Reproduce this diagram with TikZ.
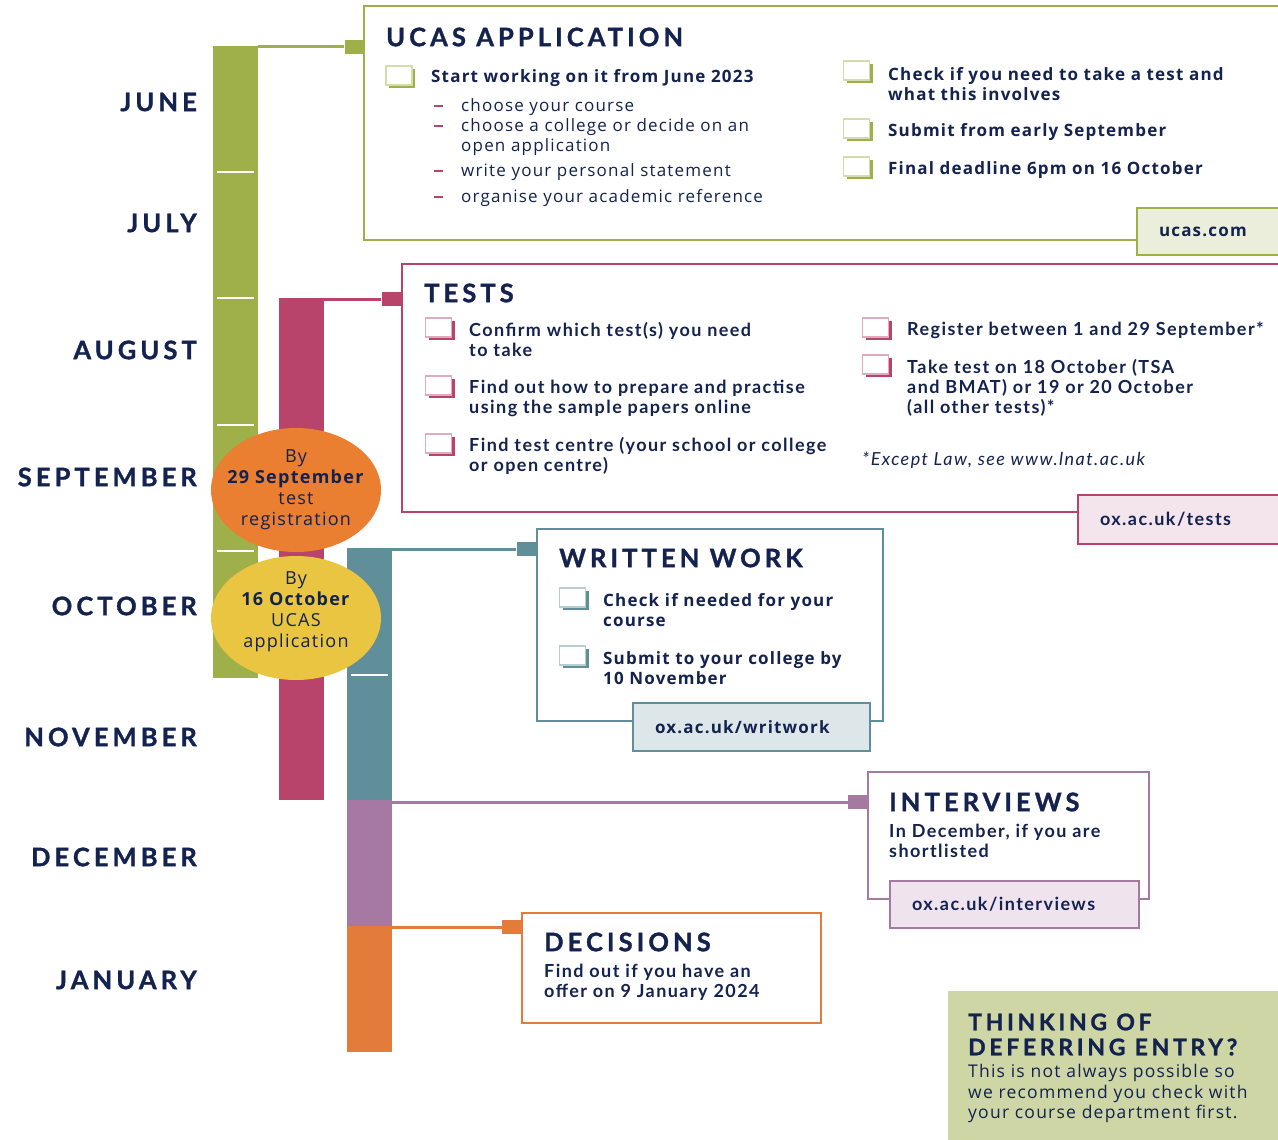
\documentclass[tikz,border=0pt]{standalone}
\usepackage{fontspec}
\setmainfont{Open Sans}[LetterSpace=7]
\newfontfamily\headfont[LetterSpace=16,FakeBold=1.2]{Lato}
\newfontfamily\latofont[LetterSpace=8]{Lato}
\usetikzlibrary{shapes.geometric,shadows,positioning}

\definecolor{navy}{HTML}{14224F}
\definecolor{cgreen}{HTML}{9FB04A}
\definecolor{cgreenlt}{HTML}{EAEEDA}
\definecolor{cthink}{HTML}{CDD6A4}
\definecolor{cpink}{HTML}{B8446C}
\definecolor{cpinklt}{HTML}{F4E4EB}
\definecolor{cteal}{HTML}{608F9A}
\definecolor{ctealt}{HTML}{DDE7EA}
\definecolor{cpurple}{HTML}{A679A2}
\definecolor{cpurplelt}{HTML}{EFE3EE}
\definecolor{corange}{HTML}{E37C3B}
\definecolor{cellorange}{HTML}{EA7E31}
\definecolor{cyellow}{HTML}{EAC541}

\newcommand\dashmark{\makebox[27pt][l]{\textcolor{cpink}{\rule[0.28em]{9pt}{1.8pt}}}}

\begin{document}
\begin{tikzpicture}
[x=1pt, y=-1pt,
bar/.style={rectangle, inner sep=0pt, minimum width=45pt, anchor=north west},
tickmark/.style={white, line width=1.5pt},
link/.style={line width=3pt},
knob/.style={rectangle, inner sep=0pt, minimum width=19pt, minimum height=14pt},
frame/.style={rectangle, draw, line width=2pt, fill=white, inner sep=0pt, anchor=north west},
tab/.style={rectangle, draw, line width=2pt, inner xsep=22pt, inner ysep=0pt, align=left, anchor=north west, text=navy},
chk/.style={rectangle, draw=#1!45, fill=white, line width=1.2pt, minimum width=26pt, minimum height=19pt, inner sep=0pt, general shadow={fill=#1, shadow xshift=3pt, shadow yshift=-3pt}},
month/.style={anchor=east, inner sep=0pt, text=navy, font=\headfont\bfseries\fontsize{25.5}{28}\selectfont},
head/.style={anchor=west, inner sep=0pt, text=navy, font=\headfont\bfseries\fontsize{25.5}{28}\selectfont},
body/.style={anchor=west, inner sep=0pt, text=navy, align=left, font=\bfseries\fontsize{17}{20}\selectfont},
lbody/.style={anchor=west, inner sep=0pt, text=navy, align=left, font=\latofont\bfseries\fontsize{18}{20}\selectfont},
item/.style={anchor=west, inner sep=0pt, text=navy, align=left, font=\fontsize{17}{20}\selectfont},
oval/.style={ellipse, inner sep=0pt, minimum width=170pt, minimum height=124pt}]

\useasboundingbox (0,0) rectangle (1278,1140);
\clip (0,0) rectangle (1278,1140);

% months
\node[month] (mjun) at (197,102) {JUNE};
\node[month] (mjul) at (197,223) {JULY};
\node[month] (maug) at (197,350) {AUGUST};
\node[month] (msep) at (197,477) {SEPTEMBER};
\node[month] (moct) at (197,606) {OCTOBER};
\node[month] (mnov) at (197,737) {NOVEMBER};
\node[month] (mdec) at (197,857) {DECEMBER};
\node[month] (mjan) at (197,980) {JANUARY};

% bars
\node[bar, fill=cgreen, minimum height=632pt] (barucas) at (213,46) {};
\node[bar, fill=cpink, minimum height=502pt] (bartests) at (279,298) {};
\node[bar, fill=cteal, minimum height=252pt] (barwrit) at (347,548) {};
\node[bar, fill=cpurple, minimum height=126pt] (barint) at (347,800) {};
\node[bar, fill=corange, minimum height=126pt] (bardec) at (347,926) {};

\foreach \y in {172,298,425,551}
  \draw[tickmark] (217,\y) -- (254,\y);
\draw[tickmark] (351,675) -- (388,675);

% boxes
\node[frame, draw=cgreen, minimum width=932pt, minimum height=234pt] (ucas) at (363,5) {};
\node[frame, draw=cpink, minimum width=900pt, minimum height=248pt] (tests) at (401,263) {};
\node[frame, draw=cteal, minimum width=346pt, minimum height=192pt] (writ) at (536,528) {};
\node[frame, draw=cpurple, minimum width=281pt, minimum height=127pt] (inter) at (867,771) {};
\node[frame, draw=corange, minimum width=299pt, minimum height=110pt] (decis) at (521,912) {};
\node[frame, draw=none, fill=cthink, minimum width=340pt, minimum height=160pt] (think) at (947,990) {};

% knobs and links
\node[knob, fill=cgreen] (kucas) at (354,47) {};
\node[knob, fill=cpink] (ktests) at (391,299) {};
\node[knob, fill=cteal] (kwrit) at (526,549) {};
\node[knob, fill=cpurple] (kint) at (857.5,802) {};
\node[knob, fill=corange] (kdec) at (511.5,927) {};
\draw[link, cgreen] (kucas.west) -- (kucas.west -| barucas.east);
\draw[link, cpink] (ktests.west) -- (ktests.west -| bartests.east);
\draw[link, cteal] (kwrit.west) -- (kwrit.west -| barwrit.east);
\draw[link, cpurple] (kint.west) -- (kint.west -| barint.east);
\draw[link, corange] (kdec.west) -- (kdec.west -| bardec.east);

% tabs
\node[tab, draw=cgreen, fill=cgreenlt, minimum height=47pt, text width=116pt, font=\bfseries\fontsize{17}{20}\selectfont] (tucas) at (1136,207) {ucas.com};
\node[tab, draw=cpink, fill=cpinklt, minimum height=49pt, text width=176pt, font=\latofont\bfseries\fontsize{18}{20}\selectfont] (ttests) at (1077,494) {ox.ac.uk/tests};
\node[tab, draw=cteal, fill=ctealt, minimum height=48pt, text width=193pt, font=\bfseries\fontsize{17}{20}\selectfont] (twrit) at (632,702) {ox.ac.uk/writwork};
\node[tab, draw=cpurple, fill=cpurplelt, minimum height=47pt, text width=205pt, font=\latofont\bfseries\fontsize{18}{20}\selectfont] (tint) at (889,880) {ox.ac.uk/interviews};

% ucas application
\node[head] (hucas) at (386,37) {UCAS APPLICATION};
\node[chk=cgreen] (cu1) at (399,75.5) {};
\node[body] (su1) at (431,78) {Start working on it from June 2023};
\node[item] (b1) at (434,107) {\dashmark choose your course};
\node[item] (b2) at (434,137) {\dashmark choose a college or decide on an\\\hspace*{27pt}open application};
\node[item] (b3) at (434,172) {\dashmark write your personal statement};
\node[item] (b4) at (434,198) {\dashmark organise your academic reference};
\node[chk=cgreen] (cu2) at (856.5,70.5) {};
\node[body] (su2) at (888,84) {Check if you need to take a test and\\what this involves};
\node[chk=cgreen] (cu3) at (856.5,128.5) {};
\node[body] (su3) at (888,132) {Submit from early September};
\node[chk=cgreen] (cu4) at (856.5,166.5) {};
\node[body] (su4) at (888,170) {Final deadline 6pm on 16 October};

% tests
\node[head] (htests) at (424,293) {TESTS};
\node[chk=cpink] (ct1) at (438.5,327.5) {};
\node[lbody] (st1) at (469,340) {Confirm which test(s) you need\\to take};
\node[chk=cpink] (ct2) at (438.5,385.5) {};
\node[lbody] (st2) at (469,398) {Find out how to prepare and practise\\using the sample papers online};
\node[chk=cpink] (ct3) at (438.5,443.5) {};
\node[lbody] (st3) at (469,456) {Find test centre (your school or college\\or open centre)};
\node[chk=cpink] (ct4) at (875.5,327.5) {};
\node[lbody] (st4) at (907,330) {Register between 1 and 29 September*};
\node[chk=cpink] (ct5) at (875.5,364.5) {};
\node[lbody] (st5) at (907,388) {Take test on 18 October (TSA\\and BMAT) or 19 or 20 October\\(all other tests)*};
\node[lbody, font=\latofont\itshape\fontsize{18}{20}\selectfont] (note) at (862,460) {*Except Law, see www.lnat.ac.uk};

% written work
\node[head] (hwrit) at (559,558) {WRITTEN WORK};
\node[chk=cteal] (cw1) at (572.5,597.5) {};
\node[body] (sw1) at (603,610) {Check if needed for your\\course};
\node[chk=cteal] (cw2) at (572.5,655.5) {};
\node[body] (sw2) at (603,668) {Submit to your college by\\10 November};

% interviews and decisions
\node[head] (hint) at (889,802) {INTERVIEWS};
\node[lbody] (sint) at (889,841) {In December, if you are\\shortlisted};
\node[head] (hdec) at (544,942) {DECISIONS};
\node[lbody] (sdec) at (544,982) {Find out if you have an\\offer on 9 January 2024};

% deferring
\node[head, align=left, font=\headfont\bfseries\fontsize{23}{25}\selectfont] (hthink) at (968,1034.5) {THINKING OF\\DEFERRING ENTRY?};
\node[item, font=\fontsize{17.5}{20.5}\selectfont] (sthink) at (968,1093.5) {This is not always possible so\\we recommend you check with\\your course department first.};

% deadlines
\node[oval, fill=cellorange, label={[text=navy, align=center, font=\fontsize{18}{21}\selectfont]center:By\\\textbf{29 September}\\test\\registration}] (osep) at (296,490) {};
\node[oval, fill=cyellow, label={[text=navy, align=center, font=\fontsize{18}{21}\selectfont, yshift=6pt]center:By\\\textbf{16 October}\\UCAS\\application}] (ooct) at (296,618) {};
\end{tikzpicture}
\end{document}
